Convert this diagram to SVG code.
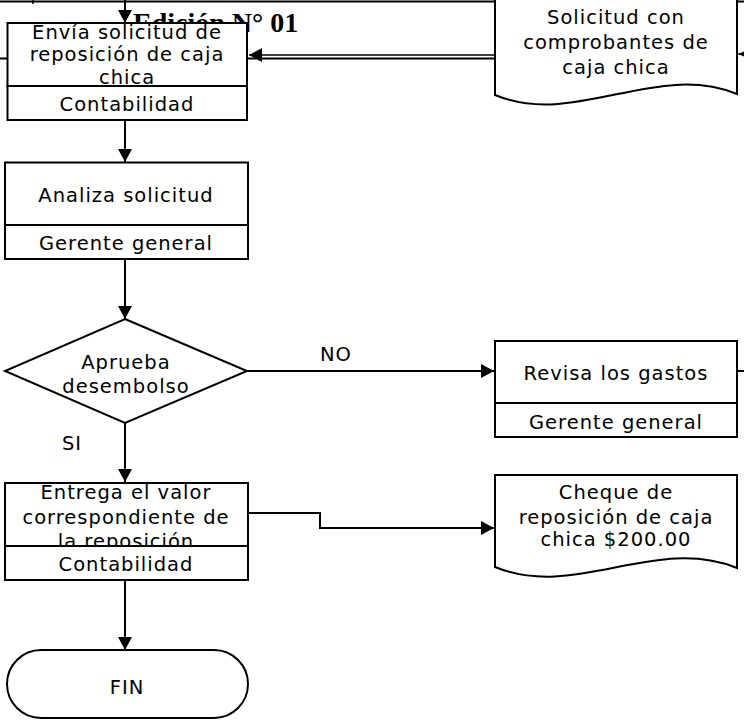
<svg xmlns="http://www.w3.org/2000/svg" width="744" height="728" viewBox="0 0 744 728">
<defs>
<marker id="ah" markerUnits="userSpaceOnUse" markerWidth="14" markerHeight="14" viewBox="0 0 14 14" refX="13" refY="7" orient="auto">
<path d="M0,0 L13,7 L0,14 Z" fill="#000"/>
</marker>
<marker id="ahs" markerUnits="userSpaceOnUse" markerWidth="8" markerHeight="8" viewBox="0 0 8 8" refX="7" refY="4" orient="auto">
<path d="M0,1 L7,4 L0,7 Z" fill="#000"/>
</marker>
</defs>
<style>
.box{fill:#fff;stroke:#000;stroke-width:2}
.ln{fill:none;stroke:#000;stroke-width:2}
.t{font-family:"DejaVu Sans","Liberation Sans",sans-serif;font-size:19.5px;letter-spacing:1px;text-anchor:middle;fill:#000}
.title{font-family:"Liberation Serif","Times New Roman",serif;font-size:28px;font-weight:bold;fill:#000}
</style>
<rect width="744" height="728" fill="#fff"/>
<g id="page-frame">
<line x1="0" y1="1.5" x2="744" y2="1.5" stroke="#000" stroke-width="2"/>
<line x1="33" y1="0" x2="33" y2="4" stroke="#000" stroke-width="1.5"/>
<line x1="0" y1="58.5" x2="495" y2="58.5" stroke="#000" stroke-width="2"/>
<text class="title" x="133" y="32">Edición N° 01</text>
</g>
<g id="connectors">
<line class="ln" x1="125" y1="0" x2="125" y2="23" marker-end="url(#ah)"/>
<line x1="494" y1="55" x2="249" y2="55" stroke="#000" stroke-width="1.4" marker-end="url(#ah)"/>
<line x1="744" y1="54" x2="738" y2="54" stroke="#000" stroke-width="1.2" marker-end="url(#ahs)"/>
<line class="ln" x1="125" y1="120" x2="125" y2="162" marker-end="url(#ah)"/>
<line class="ln" x1="125" y1="259" x2="125" y2="319" marker-end="url(#ah)"/>
<line class="ln" x1="247" y1="371" x2="494" y2="371" marker-end="url(#ah)"/>
<line class="ln" x1="737" y1="371" x2="744" y2="371"/>
<line class="ln" x1="125" y1="423" x2="125" y2="482" marker-end="url(#ah)"/>
<polyline class="ln" points="248,513 320,513 320,528 494,528" marker-end="url(#ah)"/>
<line class="ln" x1="125" y1="580" x2="125" y2="650" marker-end="url(#ah)"/>
<text class="t" x="336" y="361">NO</text>
<text class="t" x="72" y="450">SI</text>
</g>
<g id="n-envia">
<rect class="box" x="7.5" y="23" width="239.5" height="63"/>
<text class="t" x="127" y="38.5">Envía solicitud de</text>
<text class="t" x="127" y="61">reposición de caja</text>
<text class="t" x="127" y="83.5">chica</text>
<rect class="box" x="7.5" y="86" width="239.5" height="34"/>
<text class="t" x="127" y="110.5">Contabilidad</text>
</g>
<g id="n-solicitud">
<path class="box" d="M495,-5 L737,-5 L737,94 C655,61 575,128 495,95 Z"/>
<text class="t" x="616" y="23.5">Solicitud con</text>
<text class="t" x="616" y="48.5">comprobantes de</text>
<text class="t" x="616" y="73.5">caja chica</text>
</g>
<g id="n-analiza">
<rect class="box" x="5" y="162.5" width="243" height="62.5"/>
<text class="t" x="126" y="202">Analiza solicitud</text>
<rect class="box" x="5" y="225" width="243" height="34"/>
<text class="t" x="126" y="249.5">Gerente general</text>
</g>
<g id="n-aprueba">
<polygon class="box" points="125,319 247,371 125,423 5,371"/>
<text class="t" x="126" y="368.5">Aprueba</text>
<text class="t" x="126" y="392.5">desembolso</text>
</g>
<g id="n-revisa">
<rect class="box" x="495" y="341" width="242" height="62"/>
<text class="t" x="616" y="379.5">Revisa los gastos</text>
<rect class="box" x="495" y="403" width="242" height="34"/>
<text class="t" x="616" y="428.5">Gerente general</text>
</g>
<g id="n-entrega">
<rect class="box" x="5" y="483" width="243" height="63"/>
<text class="t" x="126" y="498.5">Entrega el valor</text>
<text class="t" x="126" y="523.5">correspondiente de</text>
<text class="t" x="126" y="548">la reposición</text>
<rect class="box" x="5" y="546" width="243" height="34"/>
<text class="t" x="126" y="570.5">Contabilidad</text>
</g>
<g id="n-cheque">
<path class="box" d="M495,475 L737,475 L737,568 C655,535 575,600 495,567 Z"/>
<text class="t" x="616" y="498.5">Cheque de</text>
<text class="t" x="616" y="523.5">reposición de caja</text>
<text class="t" x="616" y="545.5">chica $200.00</text>
</g>
<g id="n-fin">
<rect class="box" x="7" y="650" width="241" height="68" rx="34" ry="34"/>
<text class="t" x="127" y="693.5">FIN</text>
</g>
</svg>
